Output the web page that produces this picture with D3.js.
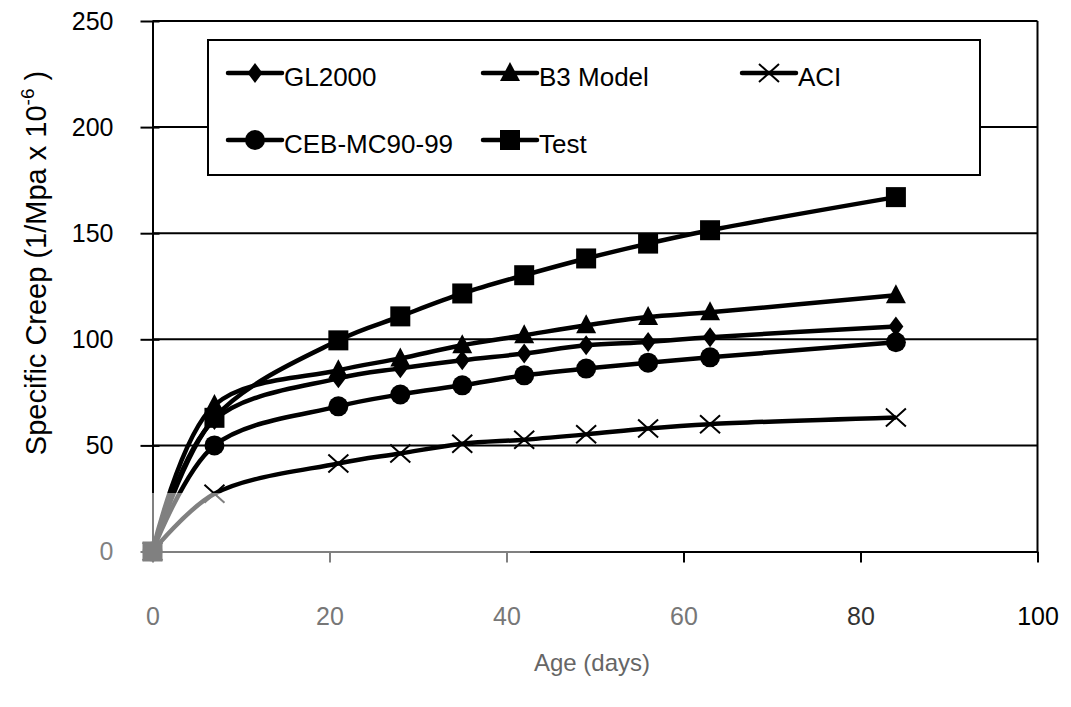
<!DOCTYPE html>
<meta charset="utf-8">
<script src="https://d3js.org/d3.v7.min.js"></script>
<style>
  body { margin: 0; background: #fff; }
  text { font-family: "Liberation Sans", Arial, sans-serif; }
</style>
<div id="chart"></div>
<script>
// ages of the readings (days)
var days = [0, 7, 21, 28, 35, 42, 49, 56, 63, 84];

// specific creep per model (1/Mpa x 10^-6)
var gl2000 = [0, 62, 81.6, 86.3, 90.1, 93.3, 97.2, 98.7, 101, 106];
var b3Model = [0, 69, 85.4, 91, 97.2, 101.9, 106.6, 110.5, 112.7, 120.8];
var aci = [0, 27.2, 41.5, 46.2, 50.8, 52.7, 55.2, 58, 60, 63.2];
var ceb = [0, 50, 68.4, 74, 78.3, 83, 86.2, 89, 91.5, 98.6];
var test = [0, 63, 99.5, 110.8, 121.6, 130.2, 138.1, 145.1, 151.4, 167];

var seriesNames = ["GL2000", "B3 Model", "ACI", "CEB-MC90-99", "Test"];
var seriesMarkers = ["diamond", "triangle", "cross", "circle", "square"];
var seriesValues = [gl2000, b3Model, aci, ceb, test];

var xTicks = [0, 20, 40, 60, 80, 100];
var yTicks = [0, 50, 100, 150, 200, 250];

var W = 1071, H = 707;
var svg = d3.select("#chart").append("svg")
    .attr("width", W)
    .attr("height", H);

var x = d3.scaleLinear().domain([0, 100]).range([152.5, 1037.5]);
var y = d3.scaleLinear().domain([0, 250]).range([551.5, 21]);

// gridlines
svg.append("g")
    .selectAll("line")
    .data(yTicks.slice(1))
    .enter().append("line")
    .attr("x1", x(0)).attr("x2", x(100))
    .attr("y1", function (d) { return y(d); })
    .attr("y2", function (d) { return y(d); })
    .attr("stroke", "#000")
    .attr("stroke-width", 2);

// right border
svg.append("line")
    .attr("x1", x(100)).attr("x2", x(100))
    .attr("y1", y(250)).attr("y2", y(0))
    .attr("stroke", "#000").attr("stroke-width", 2);

// y axis: ticks crossing the line
var yAxis = svg.append("g")
    .attr("transform", "translate(" + x(0) + ",0)")
    .call(d3.axisLeft(y).tickValues(yTicks).tickSizeInner(12).tickSizeOuter(0).tickPadding(27));
yAxis.select(".domain").attr("stroke", "#000").attr("stroke-width", 2);
yAxis.selectAll(".tick line").attr("x2", -12).attr("x1", 7).attr("stroke", "#000").attr("stroke-width", 2);
yAxis.selectAll(".tick text")
    .attr("font-size", 25)
    .attr("font-family", "Liberation Sans, Arial, sans-serif")
    .attr("fill", "#000");

// x axis
var xAxis = svg.append("g")
    .attr("transform", "translate(0," + y(0) + ")")
    .call(d3.axisBottom(x).tickValues(xTicks).tickSizeInner(11).tickSizeOuter(0).tickPadding(45));
xAxis.select(".domain").attr("stroke", "#000").attr("stroke-width", 2);
xAxis.selectAll(".tick line").attr("stroke", "#000").attr("stroke-width", 2);
xAxis.selectAll(".tick text")
    .attr("font-size", 25)
    .attr("font-family", "Liberation Sans, Arial, sans-serif")
    .attr("fill", function (d) { return d <= 60 ? "#777" : (d == 80 ? "#333" : "#000"); });

// marker drawing
function drawMarker(g, kind) {
    if (kind == "diamond") {
        g.append("path").attr("d", "M0,-10L7.5,0L0,10L-7.5,0Z").attr("fill", "#000");
    } else if (kind == "triangle") {
        g.append("path").attr("d", "M0,-11L10,8L-10,8Z").attr("fill", "#000");
    } else if (kind == "circle") {
        g.append("circle").attr("r", 10).attr("fill", "#000");
    } else if (kind == "square") {
        g.append("rect").attr("x", -10).attr("y", -10).attr("width", 20).attr("height", 20).attr("fill", "#000");
    } else if (kind == "cross") {
        g.append("path").attr("d", "M-10,-9L10,9M-10,9L10,-9")
            .attr("stroke", "#000").attr("stroke-width", 2).attr("fill", "none");
    }
}

var line = d3.line()
    .x(function (d) { return x(d[0]); })
    .y(function (d) { return y(d[1]); })
    .curve(d3.curveCatmullRom.alpha(0.5));

seriesValues.forEach(function (vals, i) {
    var pts = days.map(function (d, j) { return [d, vals[j]]; });
    svg.append("path")
        .datum(pts)
        .attr("d", line)
        .attr("fill", "none")
        .attr("stroke", "#000")
        .attr("stroke-width", 4.5);
    pts.forEach(function (p) {
        var g = svg.append("g").attr("transform", "translate(" + x(p[0]) + "," + y(p[1]) + ")");
        drawMarker(g, seriesMarkers[i]);
    });
});

// washed-out lower left corner like the scanned source
svg.append("rect")
    .attr("x", 0).attr("y", 493)
    .attr("width", 530).attr("height", 80)
    .attr("fill", "#fff").attr("opacity", 0.5);

// legend
var legend = svg.append("g");
legend.append("rect")
    .attr("x", 208).attr("y", 40)
    .attr("width", 772).attr("height", 135)
    .attr("fill", "#fff").attr("stroke", "#000").attr("stroke-width", 2);

var legendPos = [[228, 73], [483, 73], [742, 73], [228, 140], [483, 140]];
seriesNames.forEach(function (name, i) {
    var lx = legendPos[i][0], ly = legendPos[i][1];
    var g = legend.append("g").attr("transform", "translate(" + lx + "," + ly + ")");
    g.append("line")
        .attr("x1", 0).attr("x2", 54)
        .attr("stroke", "#000").attr("stroke-width", 4.5).attr("stroke-linecap", "round");
    drawMarker(g.append("g").attr("transform", "translate(27,0)"), seriesMarkers[i]);
    g.append("text")
        .attr("x", 56).attr("y", 13)
        .attr("font-size", 26)
        .text(name);
});

// axis titles
svg.append("text")
    .attr("x", 592).attr("y", 671)
    .attr("text-anchor", "middle")
    .attr("font-size", 24)
    .attr("fill", "#666")
    .text("Age (days)");

var yt = svg.append("text")
    .attr("transform", "translate(46,263) rotate(-90)")
    .attr("text-anchor", "middle")
    .attr("font-size", 29)
    .attr("fill", "#000");
yt.append("tspan").text("Specific Creep (1/Mpa x 10");
yt.append("tspan").attr("dy", -12).attr("font-size", 19).text("-6");
yt.append("tspan").attr("dy", 12).text(" )");
</script>
